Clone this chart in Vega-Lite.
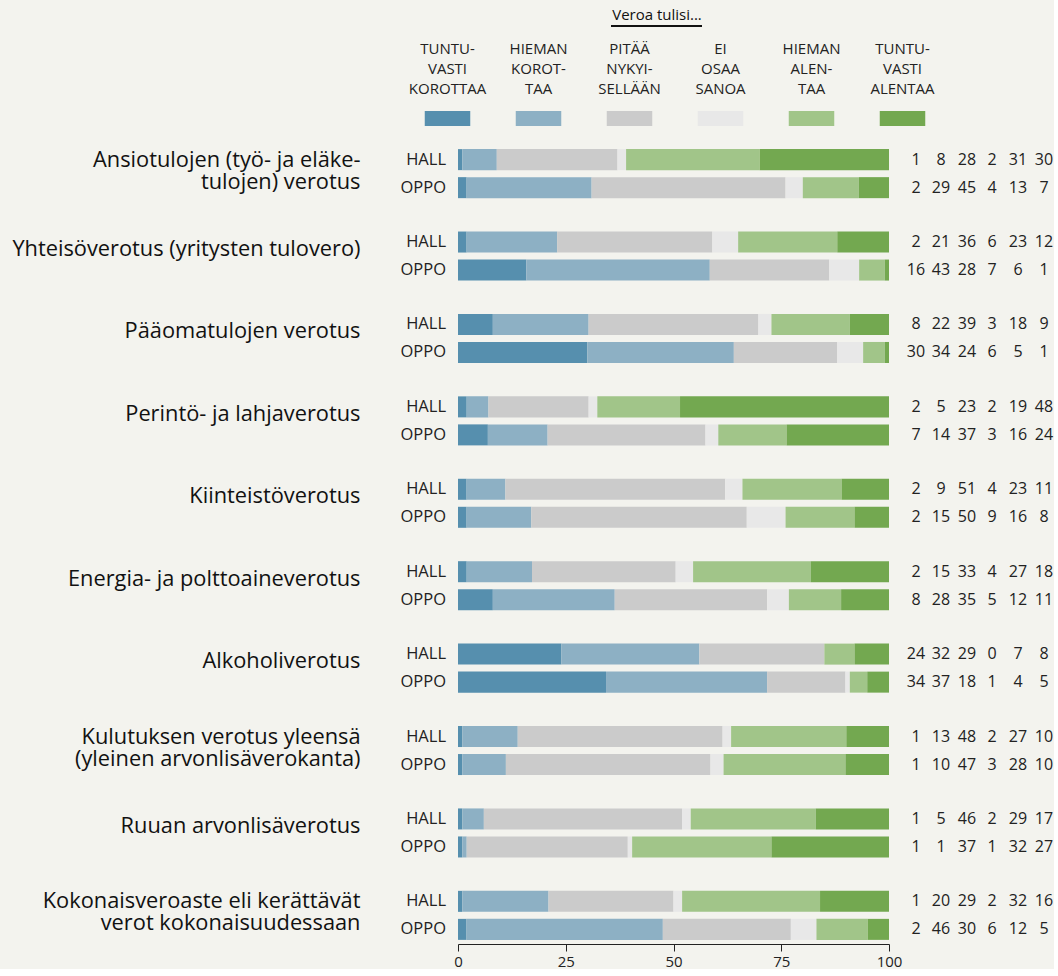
{
  "$schema": "https://vega.github.io/schema/vega-lite/v6.json",
  "background": "#f3f3ee",
  "padding": {"left": 11, "top": 7, "right": 0, "bottom": 0},
  "config": {"view": {"stroke": null}, "font": "Open Sans"},
  "spacing": 19,
  "datasets": {
    "leg": [
      {"r": "Tuntuvasti korottaa", "lab": "TUNTU-|VASTI|KOROTTAA"},
      {"r": "Hieman korottaa", "lab": "HIEMAN|KOROT-|TAA"},
      {"r": "Pitää nykyisellään", "lab": "PITÄÄ|NYKYI-|SELLÄÄN"},
      {"r": "Ei osaa sanoa", "lab": "EI|OSAA|SANOA"},
      {"r": "Hieman alentaa", "lab": "HIEMAN|ALEN-|TAA"},
      {"r": "Tuntuvasti alentaa", "lab": "TUNTU-|VASTI|ALENTAA"}
    ],
    "main": [
      {"c": "Ansiotulojen (työ- ja eläke-|tulojen) verotus", "g": "HALL", "o": 1, "r": "Tuntuvasti korottaa", "v": 1},
      {"c": "Ansiotulojen (työ- ja eläke-|tulojen) verotus", "g": "HALL", "o": 2, "r": "Hieman korottaa", "v": 8},
      {"c": "Ansiotulojen (työ- ja eläke-|tulojen) verotus", "g": "HALL", "o": 3, "r": "Pitää nykyisellään", "v": 28},
      {"c": "Ansiotulojen (työ- ja eläke-|tulojen) verotus", "g": "HALL", "o": 4, "r": "Ei osaa sanoa", "v": 2},
      {"c": "Ansiotulojen (työ- ja eläke-|tulojen) verotus", "g": "HALL", "o": 5, "r": "Hieman alentaa", "v": 31},
      {"c": "Ansiotulojen (työ- ja eläke-|tulojen) verotus", "g": "HALL", "o": 6, "r": "Tuntuvasti alentaa", "v": 30},
      {"c": "Ansiotulojen (työ- ja eläke-|tulojen) verotus", "g": "OPPO", "o": 1, "r": "Tuntuvasti korottaa", "v": 2},
      {"c": "Ansiotulojen (työ- ja eläke-|tulojen) verotus", "g": "OPPO", "o": 2, "r": "Hieman korottaa", "v": 29},
      {"c": "Ansiotulojen (työ- ja eläke-|tulojen) verotus", "g": "OPPO", "o": 3, "r": "Pitää nykyisellään", "v": 45},
      {"c": "Ansiotulojen (työ- ja eläke-|tulojen) verotus", "g": "OPPO", "o": 4, "r": "Ei osaa sanoa", "v": 4},
      {"c": "Ansiotulojen (työ- ja eläke-|tulojen) verotus", "g": "OPPO", "o": 5, "r": "Hieman alentaa", "v": 13},
      {"c": "Ansiotulojen (työ- ja eläke-|tulojen) verotus", "g": "OPPO", "o": 6, "r": "Tuntuvasti alentaa", "v": 7},
      {"c": "Yhteisöverotus (yritysten tulovero)", "g": "HALL", "o": 1, "r": "Tuntuvasti korottaa", "v": 2},
      {"c": "Yhteisöverotus (yritysten tulovero)", "g": "HALL", "o": 2, "r": "Hieman korottaa", "v": 21},
      {"c": "Yhteisöverotus (yritysten tulovero)", "g": "HALL", "o": 3, "r": "Pitää nykyisellään", "v": 36},
      {"c": "Yhteisöverotus (yritysten tulovero)", "g": "HALL", "o": 4, "r": "Ei osaa sanoa", "v": 6},
      {"c": "Yhteisöverotus (yritysten tulovero)", "g": "HALL", "o": 5, "r": "Hieman alentaa", "v": 23},
      {"c": "Yhteisöverotus (yritysten tulovero)", "g": "HALL", "o": 6, "r": "Tuntuvasti alentaa", "v": 12},
      {"c": "Yhteisöverotus (yritysten tulovero)", "g": "OPPO", "o": 1, "r": "Tuntuvasti korottaa", "v": 16},
      {"c": "Yhteisöverotus (yritysten tulovero)", "g": "OPPO", "o": 2, "r": "Hieman korottaa", "v": 43},
      {"c": "Yhteisöverotus (yritysten tulovero)", "g": "OPPO", "o": 3, "r": "Pitää nykyisellään", "v": 28},
      {"c": "Yhteisöverotus (yritysten tulovero)", "g": "OPPO", "o": 4, "r": "Ei osaa sanoa", "v": 7},
      {"c": "Yhteisöverotus (yritysten tulovero)", "g": "OPPO", "o": 5, "r": "Hieman alentaa", "v": 6},
      {"c": "Yhteisöverotus (yritysten tulovero)", "g": "OPPO", "o": 6, "r": "Tuntuvasti alentaa", "v": 1},
      {"c": "Pääomatulojen verotus", "g": "HALL", "o": 1, "r": "Tuntuvasti korottaa", "v": 8},
      {"c": "Pääomatulojen verotus", "g": "HALL", "o": 2, "r": "Hieman korottaa", "v": 22},
      {"c": "Pääomatulojen verotus", "g": "HALL", "o": 3, "r": "Pitää nykyisellään", "v": 39},
      {"c": "Pääomatulojen verotus", "g": "HALL", "o": 4, "r": "Ei osaa sanoa", "v": 3},
      {"c": "Pääomatulojen verotus", "g": "HALL", "o": 5, "r": "Hieman alentaa", "v": 18},
      {"c": "Pääomatulojen verotus", "g": "HALL", "o": 6, "r": "Tuntuvasti alentaa", "v": 9},
      {"c": "Pääomatulojen verotus", "g": "OPPO", "o": 1, "r": "Tuntuvasti korottaa", "v": 30},
      {"c": "Pääomatulojen verotus", "g": "OPPO", "o": 2, "r": "Hieman korottaa", "v": 34},
      {"c": "Pääomatulojen verotus", "g": "OPPO", "o": 3, "r": "Pitää nykyisellään", "v": 24},
      {"c": "Pääomatulojen verotus", "g": "OPPO", "o": 4, "r": "Ei osaa sanoa", "v": 6},
      {"c": "Pääomatulojen verotus", "g": "OPPO", "o": 5, "r": "Hieman alentaa", "v": 5},
      {"c": "Pääomatulojen verotus", "g": "OPPO", "o": 6, "r": "Tuntuvasti alentaa", "v": 1},
      {"c": "Perintö- ja lahjaverotus", "g": "HALL", "o": 1, "r": "Tuntuvasti korottaa", "v": 2},
      {"c": "Perintö- ja lahjaverotus", "g": "HALL", "o": 2, "r": "Hieman korottaa", "v": 5},
      {"c": "Perintö- ja lahjaverotus", "g": "HALL", "o": 3, "r": "Pitää nykyisellään", "v": 23},
      {"c": "Perintö- ja lahjaverotus", "g": "HALL", "o": 4, "r": "Ei osaa sanoa", "v": 2},
      {"c": "Perintö- ja lahjaverotus", "g": "HALL", "o": 5, "r": "Hieman alentaa", "v": 19},
      {"c": "Perintö- ja lahjaverotus", "g": "HALL", "o": 6, "r": "Tuntuvasti alentaa", "v": 48},
      {"c": "Perintö- ja lahjaverotus", "g": "OPPO", "o": 1, "r": "Tuntuvasti korottaa", "v": 7},
      {"c": "Perintö- ja lahjaverotus", "g": "OPPO", "o": 2, "r": "Hieman korottaa", "v": 14},
      {"c": "Perintö- ja lahjaverotus", "g": "OPPO", "o": 3, "r": "Pitää nykyisellään", "v": 37},
      {"c": "Perintö- ja lahjaverotus", "g": "OPPO", "o": 4, "r": "Ei osaa sanoa", "v": 3},
      {"c": "Perintö- ja lahjaverotus", "g": "OPPO", "o": 5, "r": "Hieman alentaa", "v": 16},
      {"c": "Perintö- ja lahjaverotus", "g": "OPPO", "o": 6, "r": "Tuntuvasti alentaa", "v": 24},
      {"c": "Kiinteistöverotus", "g": "HALL", "o": 1, "r": "Tuntuvasti korottaa", "v": 2},
      {"c": "Kiinteistöverotus", "g": "HALL", "o": 2, "r": "Hieman korottaa", "v": 9},
      {"c": "Kiinteistöverotus", "g": "HALL", "o": 3, "r": "Pitää nykyisellään", "v": 51},
      {"c": "Kiinteistöverotus", "g": "HALL", "o": 4, "r": "Ei osaa sanoa", "v": 4},
      {"c": "Kiinteistöverotus", "g": "HALL", "o": 5, "r": "Hieman alentaa", "v": 23},
      {"c": "Kiinteistöverotus", "g": "HALL", "o": 6, "r": "Tuntuvasti alentaa", "v": 11},
      {"c": "Kiinteistöverotus", "g": "OPPO", "o": 1, "r": "Tuntuvasti korottaa", "v": 2},
      {"c": "Kiinteistöverotus", "g": "OPPO", "o": 2, "r": "Hieman korottaa", "v": 15},
      {"c": "Kiinteistöverotus", "g": "OPPO", "o": 3, "r": "Pitää nykyisellään", "v": 50},
      {"c": "Kiinteistöverotus", "g": "OPPO", "o": 4, "r": "Ei osaa sanoa", "v": 9},
      {"c": "Kiinteistöverotus", "g": "OPPO", "o": 5, "r": "Hieman alentaa", "v": 16},
      {"c": "Kiinteistöverotus", "g": "OPPO", "o": 6, "r": "Tuntuvasti alentaa", "v": 8},
      {"c": "Energia- ja polttoaineverotus", "g": "HALL", "o": 1, "r": "Tuntuvasti korottaa", "v": 2},
      {"c": "Energia- ja polttoaineverotus", "g": "HALL", "o": 2, "r": "Hieman korottaa", "v": 15},
      {"c": "Energia- ja polttoaineverotus", "g": "HALL", "o": 3, "r": "Pitää nykyisellään", "v": 33},
      {"c": "Energia- ja polttoaineverotus", "g": "HALL", "o": 4, "r": "Ei osaa sanoa", "v": 4},
      {"c": "Energia- ja polttoaineverotus", "g": "HALL", "o": 5, "r": "Hieman alentaa", "v": 27},
      {"c": "Energia- ja polttoaineverotus", "g": "HALL", "o": 6, "r": "Tuntuvasti alentaa", "v": 18},
      {"c": "Energia- ja polttoaineverotus", "g": "OPPO", "o": 1, "r": "Tuntuvasti korottaa", "v": 8},
      {"c": "Energia- ja polttoaineverotus", "g": "OPPO", "o": 2, "r": "Hieman korottaa", "v": 28},
      {"c": "Energia- ja polttoaineverotus", "g": "OPPO", "o": 3, "r": "Pitää nykyisellään", "v": 35},
      {"c": "Energia- ja polttoaineverotus", "g": "OPPO", "o": 4, "r": "Ei osaa sanoa", "v": 5},
      {"c": "Energia- ja polttoaineverotus", "g": "OPPO", "o": 5, "r": "Hieman alentaa", "v": 12},
      {"c": "Energia- ja polttoaineverotus", "g": "OPPO", "o": 6, "r": "Tuntuvasti alentaa", "v": 11},
      {"c": "Alkoholiverotus", "g": "HALL", "o": 1, "r": "Tuntuvasti korottaa", "v": 24},
      {"c": "Alkoholiverotus", "g": "HALL", "o": 2, "r": "Hieman korottaa", "v": 32},
      {"c": "Alkoholiverotus", "g": "HALL", "o": 3, "r": "Pitää nykyisellään", "v": 29},
      {"c": "Alkoholiverotus", "g": "HALL", "o": 4, "r": "Ei osaa sanoa", "v": 0},
      {"c": "Alkoholiverotus", "g": "HALL", "o": 5, "r": "Hieman alentaa", "v": 7},
      {"c": "Alkoholiverotus", "g": "HALL", "o": 6, "r": "Tuntuvasti alentaa", "v": 8},
      {"c": "Alkoholiverotus", "g": "OPPO", "o": 1, "r": "Tuntuvasti korottaa", "v": 34},
      {"c": "Alkoholiverotus", "g": "OPPO", "o": 2, "r": "Hieman korottaa", "v": 37},
      {"c": "Alkoholiverotus", "g": "OPPO", "o": 3, "r": "Pitää nykyisellään", "v": 18},
      {"c": "Alkoholiverotus", "g": "OPPO", "o": 4, "r": "Ei osaa sanoa", "v": 1},
      {"c": "Alkoholiverotus", "g": "OPPO", "o": 5, "r": "Hieman alentaa", "v": 4},
      {"c": "Alkoholiverotus", "g": "OPPO", "o": 6, "r": "Tuntuvasti alentaa", "v": 5},
      {"c": "Kulutuksen verotus yleensä|(yleinen arvonlisäverokanta)", "g": "HALL", "o": 1, "r": "Tuntuvasti korottaa", "v": 1},
      {"c": "Kulutuksen verotus yleensä|(yleinen arvonlisäverokanta)", "g": "HALL", "o": 2, "r": "Hieman korottaa", "v": 13},
      {"c": "Kulutuksen verotus yleensä|(yleinen arvonlisäverokanta)", "g": "HALL", "o": 3, "r": "Pitää nykyisellään", "v": 48},
      {"c": "Kulutuksen verotus yleensä|(yleinen arvonlisäverokanta)", "g": "HALL", "o": 4, "r": "Ei osaa sanoa", "v": 2},
      {"c": "Kulutuksen verotus yleensä|(yleinen arvonlisäverokanta)", "g": "HALL", "o": 5, "r": "Hieman alentaa", "v": 27},
      {"c": "Kulutuksen verotus yleensä|(yleinen arvonlisäverokanta)", "g": "HALL", "o": 6, "r": "Tuntuvasti alentaa", "v": 10},
      {"c": "Kulutuksen verotus yleensä|(yleinen arvonlisäverokanta)", "g": "OPPO", "o": 1, "r": "Tuntuvasti korottaa", "v": 1},
      {"c": "Kulutuksen verotus yleensä|(yleinen arvonlisäverokanta)", "g": "OPPO", "o": 2, "r": "Hieman korottaa", "v": 10},
      {"c": "Kulutuksen verotus yleensä|(yleinen arvonlisäverokanta)", "g": "OPPO", "o": 3, "r": "Pitää nykyisellään", "v": 47},
      {"c": "Kulutuksen verotus yleensä|(yleinen arvonlisäverokanta)", "g": "OPPO", "o": 4, "r": "Ei osaa sanoa", "v": 3},
      {"c": "Kulutuksen verotus yleensä|(yleinen arvonlisäverokanta)", "g": "OPPO", "o": 5, "r": "Hieman alentaa", "v": 28},
      {"c": "Kulutuksen verotus yleensä|(yleinen arvonlisäverokanta)", "g": "OPPO", "o": 6, "r": "Tuntuvasti alentaa", "v": 10},
      {"c": "Ruuan arvonlisäverotus", "g": "HALL", "o": 1, "r": "Tuntuvasti korottaa", "v": 1},
      {"c": "Ruuan arvonlisäverotus", "g": "HALL", "o": 2, "r": "Hieman korottaa", "v": 5},
      {"c": "Ruuan arvonlisäverotus", "g": "HALL", "o": 3, "r": "Pitää nykyisellään", "v": 46},
      {"c": "Ruuan arvonlisäverotus", "g": "HALL", "o": 4, "r": "Ei osaa sanoa", "v": 2},
      {"c": "Ruuan arvonlisäverotus", "g": "HALL", "o": 5, "r": "Hieman alentaa", "v": 29},
      {"c": "Ruuan arvonlisäverotus", "g": "HALL", "o": 6, "r": "Tuntuvasti alentaa", "v": 17},
      {"c": "Ruuan arvonlisäverotus", "g": "OPPO", "o": 1, "r": "Tuntuvasti korottaa", "v": 1},
      {"c": "Ruuan arvonlisäverotus", "g": "OPPO", "o": 2, "r": "Hieman korottaa", "v": 1},
      {"c": "Ruuan arvonlisäverotus", "g": "OPPO", "o": 3, "r": "Pitää nykyisellään", "v": 37},
      {"c": "Ruuan arvonlisäverotus", "g": "OPPO", "o": 4, "r": "Ei osaa sanoa", "v": 1},
      {"c": "Ruuan arvonlisäverotus", "g": "OPPO", "o": 5, "r": "Hieman alentaa", "v": 32},
      {"c": "Ruuan arvonlisäverotus", "g": "OPPO", "o": 6, "r": "Tuntuvasti alentaa", "v": 27},
      {"c": "Kokonaisveroaste eli kerättävät|verot kokonaisuudessaan", "g": "HALL", "o": 1, "r": "Tuntuvasti korottaa", "v": 1},
      {"c": "Kokonaisveroaste eli kerättävät|verot kokonaisuudessaan", "g": "HALL", "o": 2, "r": "Hieman korottaa", "v": 20},
      {"c": "Kokonaisveroaste eli kerättävät|verot kokonaisuudessaan", "g": "HALL", "o": 3, "r": "Pitää nykyisellään", "v": 29},
      {"c": "Kokonaisveroaste eli kerättävät|verot kokonaisuudessaan", "g": "HALL", "o": 4, "r": "Ei osaa sanoa", "v": 2},
      {"c": "Kokonaisveroaste eli kerättävät|verot kokonaisuudessaan", "g": "HALL", "o": 5, "r": "Hieman alentaa", "v": 32},
      {"c": "Kokonaisveroaste eli kerättävät|verot kokonaisuudessaan", "g": "HALL", "o": 6, "r": "Tuntuvasti alentaa", "v": 16},
      {"c": "Kokonaisveroaste eli kerättävät|verot kokonaisuudessaan", "g": "OPPO", "o": 1, "r": "Tuntuvasti korottaa", "v": 2},
      {"c": "Kokonaisveroaste eli kerättävät|verot kokonaisuudessaan", "g": "OPPO", "o": 2, "r": "Hieman korottaa", "v": 46},
      {"c": "Kokonaisveroaste eli kerättävät|verot kokonaisuudessaan", "g": "OPPO", "o": 3, "r": "Pitää nykyisellään", "v": 30},
      {"c": "Kokonaisveroaste eli kerättävät|verot kokonaisuudessaan", "g": "OPPO", "o": 4, "r": "Ei osaa sanoa", "v": 6},
      {"c": "Kokonaisveroaste eli kerättävät|verot kokonaisuudessaan", "g": "OPPO", "o": 5, "r": "Hieman alentaa", "v": 12},
      {"c": "Kokonaisveroaste eli kerättävät|verot kokonaisuudessaan", "g": "OPPO", "o": 6, "r": "Tuntuvasti alentaa", "v": 5}
    ]
  },
  "vconcat": [
    {
      "width": 431,
      "height": 15,
      "layer": [
        {
          "data": {"name": "leg"},
          "mark": {"type": "bar"},
          "encoding": {
            "x": {
              "field": "lab", "type": "nominal",
              "scale": {"domain": ["TUNTU-|VASTI|KOROTTAA", "HIEMAN|KOROT-|TAA", "PITÄÄ|NYKYI-|SELLÄÄN", "EI|OSAA|SANOA", "HIEMAN|ALEN-|TAA", "TUNTU-|VASTI|ALENTAA"], "range": [-56, 490], "paddingInner": 0.5, "paddingOuter": 0.25},
              "axis": {"orient": "top", "domain": false, "ticks": false, "labelAngle": 0, "labelBaseline": "middle", "labelExpr": "split(datum.label, '|')", "labelFontSize": 15, "labelColor": "#222", "labelLineHeight": 20, "labelPadding": 63, "labelLimit": 0, "title": "Veroa tulisi...", "titleFontSize": 15, "titleFontWeight": "normal", "titleColor": "#111", "titlePadding": 19, "titleX": 198.5}
            },
            "color": {
              "field": "r", "type": "nominal",
              "scale": {"domain": ["Tuntuvasti korottaa", "Hieman korottaa", "Pitää nykyisellään", "Ei osaa sanoa", "Hieman alentaa", "Tuntuvasti alentaa"], "range": ["#568fae", "#8db0c4", "#cbcbcb", "#e8e8e8", "#a1c589", "#73a850"]},
              "legend": null
            }
          }
        },
        {
          "data": {"values": [{}]},
          "mark": {"type": "rule", "strokeWidth": 2, "color": "#111", "xOffset": -18.5, "x2Offset": -18.5},
          "encoding": {
            "x": {"datum": "PITÄÄ|NYKYI-|SELLÄÄN"},
            "x2": {"datum": "EI|OSAA|SANOA"},
            "y": {"value": -85}
          }
        }
      ]
    },
    {
      "width": 431,
      "height": 799,
      "data": {"name": "main"},
      "encoding": {
        "y": {
          "field": "c", "type": "nominal", "sort": null,
          "scale": {"paddingInner": 0.405, "paddingOuter": 0.05},
          "axis": {"title": null, "domain": false, "ticks": false, "labelPadding": 98, "labelFontSize": 21.8, "labelColor": "#111", "labelLimit": 0, "labelLineHeight": 22, "labelBaseline": "middle", "labelAlign": "right", "labelExpr": "split(datum.label, '|')", "minExtent": 446, "maxExtent": 446, "labelOffset": {"condition": {"test": "indexof(datum.value, '|') < 0", "value": -7}, "value": -14}}
        },
        "yOffset": {"field": "g", "type": "nominal", "scale": {"paddingInner": 0.25, "paddingOuter": 0}}
      },
      "layer": [
        {
          "mark": {"type": "bar"},
          "encoding": {
            "x": {"field": "v", "type": "quantitative", "stack": "normalize", "scale": {"domain": [0, 1]},
              "axis": {"values": [0, 0.25, 0.5, 0.75, 1], "labelExpr": "format(datum.value * 100, 'd')", "grid": false, "title": null, "domainColor": "#222", "tickColor": "#222", "tickSize": 7, "labelFontSize": 15, "labelColor": "#222", "labelPadding": 3, "labelFlush": false}},
            "color": {"field": "r", "type": "nominal", "legend": null},
            "order": {"field": "o"}
          }
        },
        {
          "transform": [{"filter": "datum.o == 1"}],
          "mark": {"type": "text", "align": "right", "baseline": "middle", "dx": -12, "fontSize": 16.5, "color": "#222"},
          "encoding": {"x": {"datum": 0}, "text": {"field": "g"}}
        },
        {
          "transform": [{"filter": "datum.o == 1"}],
          "mark": {"type": "text", "align": "center", "baseline": "middle", "dx": 27, "fontSize": 16, "color": "#222"},
          "encoding": {"x": {"datum": 1}, "text": {"field": "v"}}
        },
        {
          "transform": [{"filter": "datum.o == 2"}],
          "mark": {"type": "text", "align": "center", "baseline": "middle", "dx": 52, "fontSize": 16, "color": "#222"},
          "encoding": {"x": {"datum": 1}, "text": {"field": "v"}}
        },
        {
          "transform": [{"filter": "datum.o == 3"}],
          "mark": {"type": "text", "align": "center", "baseline": "middle", "dx": 78, "fontSize": 16, "color": "#222"},
          "encoding": {"x": {"datum": 1}, "text": {"field": "v"}}
        },
        {
          "transform": [{"filter": "datum.o == 4"}],
          "mark": {"type": "text", "align": "center", "baseline": "middle", "dx": 103, "fontSize": 16, "color": "#222"},
          "encoding": {"x": {"datum": 1}, "text": {"field": "v"}}
        },
        {
          "transform": [{"filter": "datum.o == 5"}],
          "mark": {"type": "text", "align": "center", "baseline": "middle", "dx": 129, "fontSize": 16, "color": "#222"},
          "encoding": {"x": {"datum": 1}, "text": {"field": "v"}}
        },
        {
          "transform": [{"filter": "datum.o == 6"}],
          "mark": {"type": "text", "align": "center", "baseline": "middle", "dx": 155, "fontSize": 16, "color": "#222"},
          "encoding": {"x": {"datum": 1}, "text": {"field": "v"}}
        }
      ]
    }
  ]
}
